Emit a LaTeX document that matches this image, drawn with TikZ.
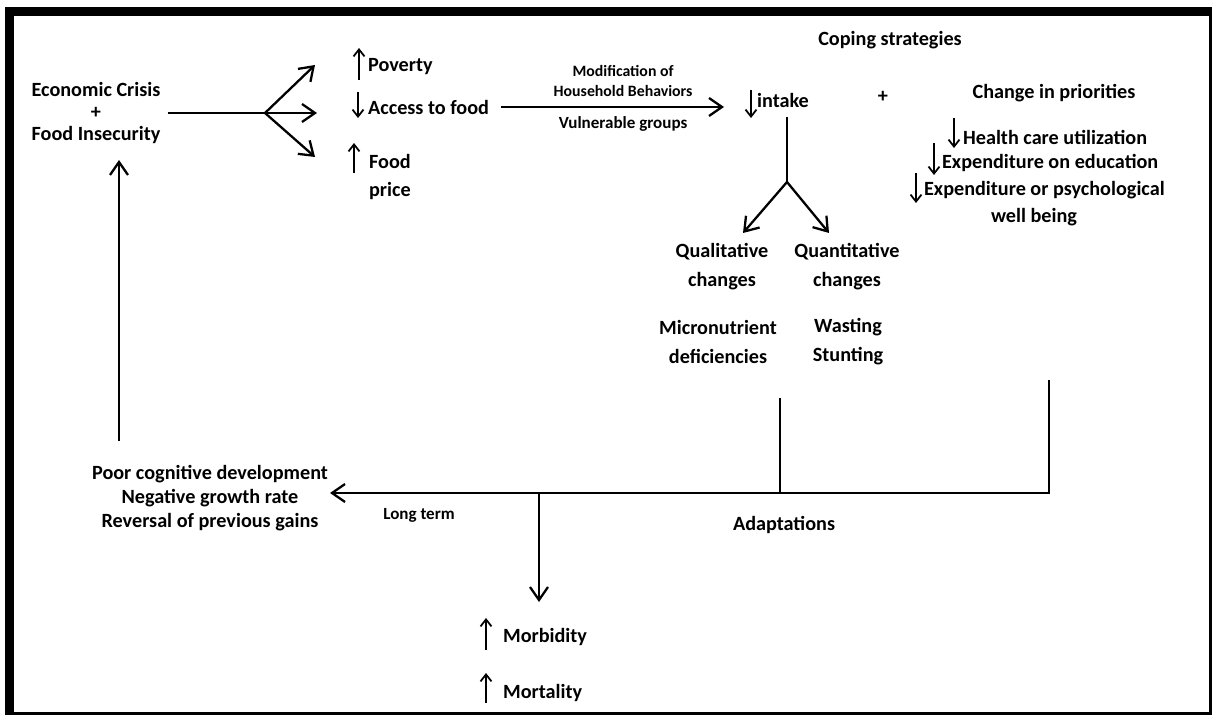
\documentclass[tikz,border=0pt]{standalone}
\usepackage{fontspec}
\setmainfont{Carlito}
\usetikzlibrary{arrows.meta, positioning, calc}

\begin{document}
\begin{tikzpicture}[
        x=0.02cm, y=-0.02cm,
        lead/.style={font=\fontsize{11.5}{#1}\selectfont\bfseries},
        txt/.style={lead=13.5, inner sep=1pt, align=center},
        small/.style={font=\fontsize{9.7}{11.8}\selectfont\bfseries, inner sep=1pt, align=center},
        arr/.style={-{Straight Barb[length=2.6mm,width=3.6mm]}, line width=1.3pt},
        sym/.style={-{Straight Barb[length=1.4mm,width=2.2mm]}, line width=1pt},
        ln/.style={line width=1.3pt}
    ]
    \useasboundingbox (0,0) rectangle (1212,715);
    % frame
    \fill (5,7) rectangle (1212,16);
    \fill (5,7) rectangle (14,715);
    \fill (1209,7) rectangle (1212,715);
    \fill (5,712) rectangle (1212,715);

    % crisis and its three effects
    \node[txt, lead=12.8] (crisis) at (96,113) {Economic Crisis\\+\\Food Insecurity};
    \coordinate (split) at (265,113);
    \coordinate (toPov) at (315,65);
    \coordinate (toAcc) at (317,113);
    \coordinate (toFood) at (315,157);

    \node[txt, anchor=west] (pov) at (366,67) {Poverty};
    \node[txt, anchor=west] (acc) at (366,107) {Access to food};
    \node[txt, lead=15.4, anchor=west, align=left] (food) at (367,177) {Food\\price};

    \draw[ln, shorten <=0.1cm] (crisis.east) -- (split);
    \draw[arr] (split) -- (toPov);
    \draw[arr] (split) -- (toAcc);
    \draw[arr] (split) -- (toFood);

    \draw[sym] ($(pov.west)+(-7,13)$) -- ++(0,-32);
    \draw[sym] ($(acc.west)+(-8,-15)$) -- ++(0,26);
    \draw[sym] ($(food.west)+(-13,-4)$) -- ++(0,-30);

    % coping strategies
    \node[txt] (coping) at (890,40) {Coping strategies};
    \node[txt, anchor=west] (intake) at (755,100) {intake};
    \node[txt] (plus) at (883,97) {+};
    \node[txt] (prio) at (1054,93) {Change in priorities};
    \node[txt, anchor=west] (health) at (961,137) {Health care utilization};
    \node[txt, anchor=west] (edu) at (940,163) {Expenditure on education};
    \node[txt, anchor=west] (psy) at (922,190) {Expenditure or psychological};
    \node[txt] (well) at (1034,217) {well being};

    \draw[arr, shorten <=0.2cm, shorten >=0.62cm] (acc.east) -- node[small, font=\fontsize{9}{11.5}\selectfont\bfseries, above=4pt] (mod) {Modification of\\Household Behaviors}
        node[small, below=4pt] (vul) {Vulnerable groups} (acc.east -| intake.west);

    \draw[sym] ($(intake.west)+(-4,-10)$) -- ++(0,28);
    \draw[sym] ($(health.west)+(-7,-19)$) -- ++(0,30);
    \draw[sym] ($(edu.west)+(-6,-20)$) -- ++(0,32);
    \draw[sym] ($(psy.west)+(-6,-17)$) -- ++(0,30);

    % intake split
    \coordinate (fork) at (787,182);
    \coordinate (toQual) at (743,233);
    \coordinate (toQuan) at (829,233);
    \draw[ln, shorten <=0.16cm] (intake.south -| fork) -- (fork);
    \draw[arr] (fork) -- (toQual);
    \draw[arr] (fork) -- (toQuan);

    \node[txt, lead=16.5] (qual) at (722,267) {Qualitative\\changes};
    \node[txt, lead=16.5] (quan) at (847,267) {Quantitative\\changes};
    \node[txt, lead=16.5] (micro) at (718,342) {Micronutrient\\deficiencies};
    \node[txt, lead=16.5] (wast) at (848,342) {Wasting\\Stunting};

    % adaptations
    \coordinate (adTop) at (780,398);
    \coordinate (adJoin) at (780,493);
    \coordinate (prTop) at (1049,380);
    \coordinate (prCorner) at (1049,493);
    \node[txt, lead=13.7] (poor) at (210,498) {Poor cognitive development\\Negative growth rate\\Reversal of previous gains};
    \draw[ln] (adTop) -- (adJoin);
    \draw[arr] (prTop) -- (prCorner) -- (prCorner -| poor.east);
    \node[small] (longterm) at (419,515) {Long term};
    \node[txt] (adapt) at (784,525) {Adaptations};

    % back to the crisis
    \coordinate (fbBot) at (119,441);
    \coordinate (fbTop) at (119,160);
    \draw[arr] (fbBot) -- (fbTop);

    % outcomes
    \coordinate (split2) at (539,493);
    \coordinate (toMorb) at (539,602);
    \draw[arr] (split2) -- (toMorb);
    \node[txt, anchor=west] (morb) at (501,637) {Morbidity};
    \node[txt, anchor=west] (mort) at (501,693) {Mortality};
    \draw[sym] ($(morb.west)+(-15,13)$) -- ++(0,-32);
    \draw[sym] ($(mort.west)+(-15,10)$) -- ++(0,-30);

\end{tikzpicture}
\end{document}
